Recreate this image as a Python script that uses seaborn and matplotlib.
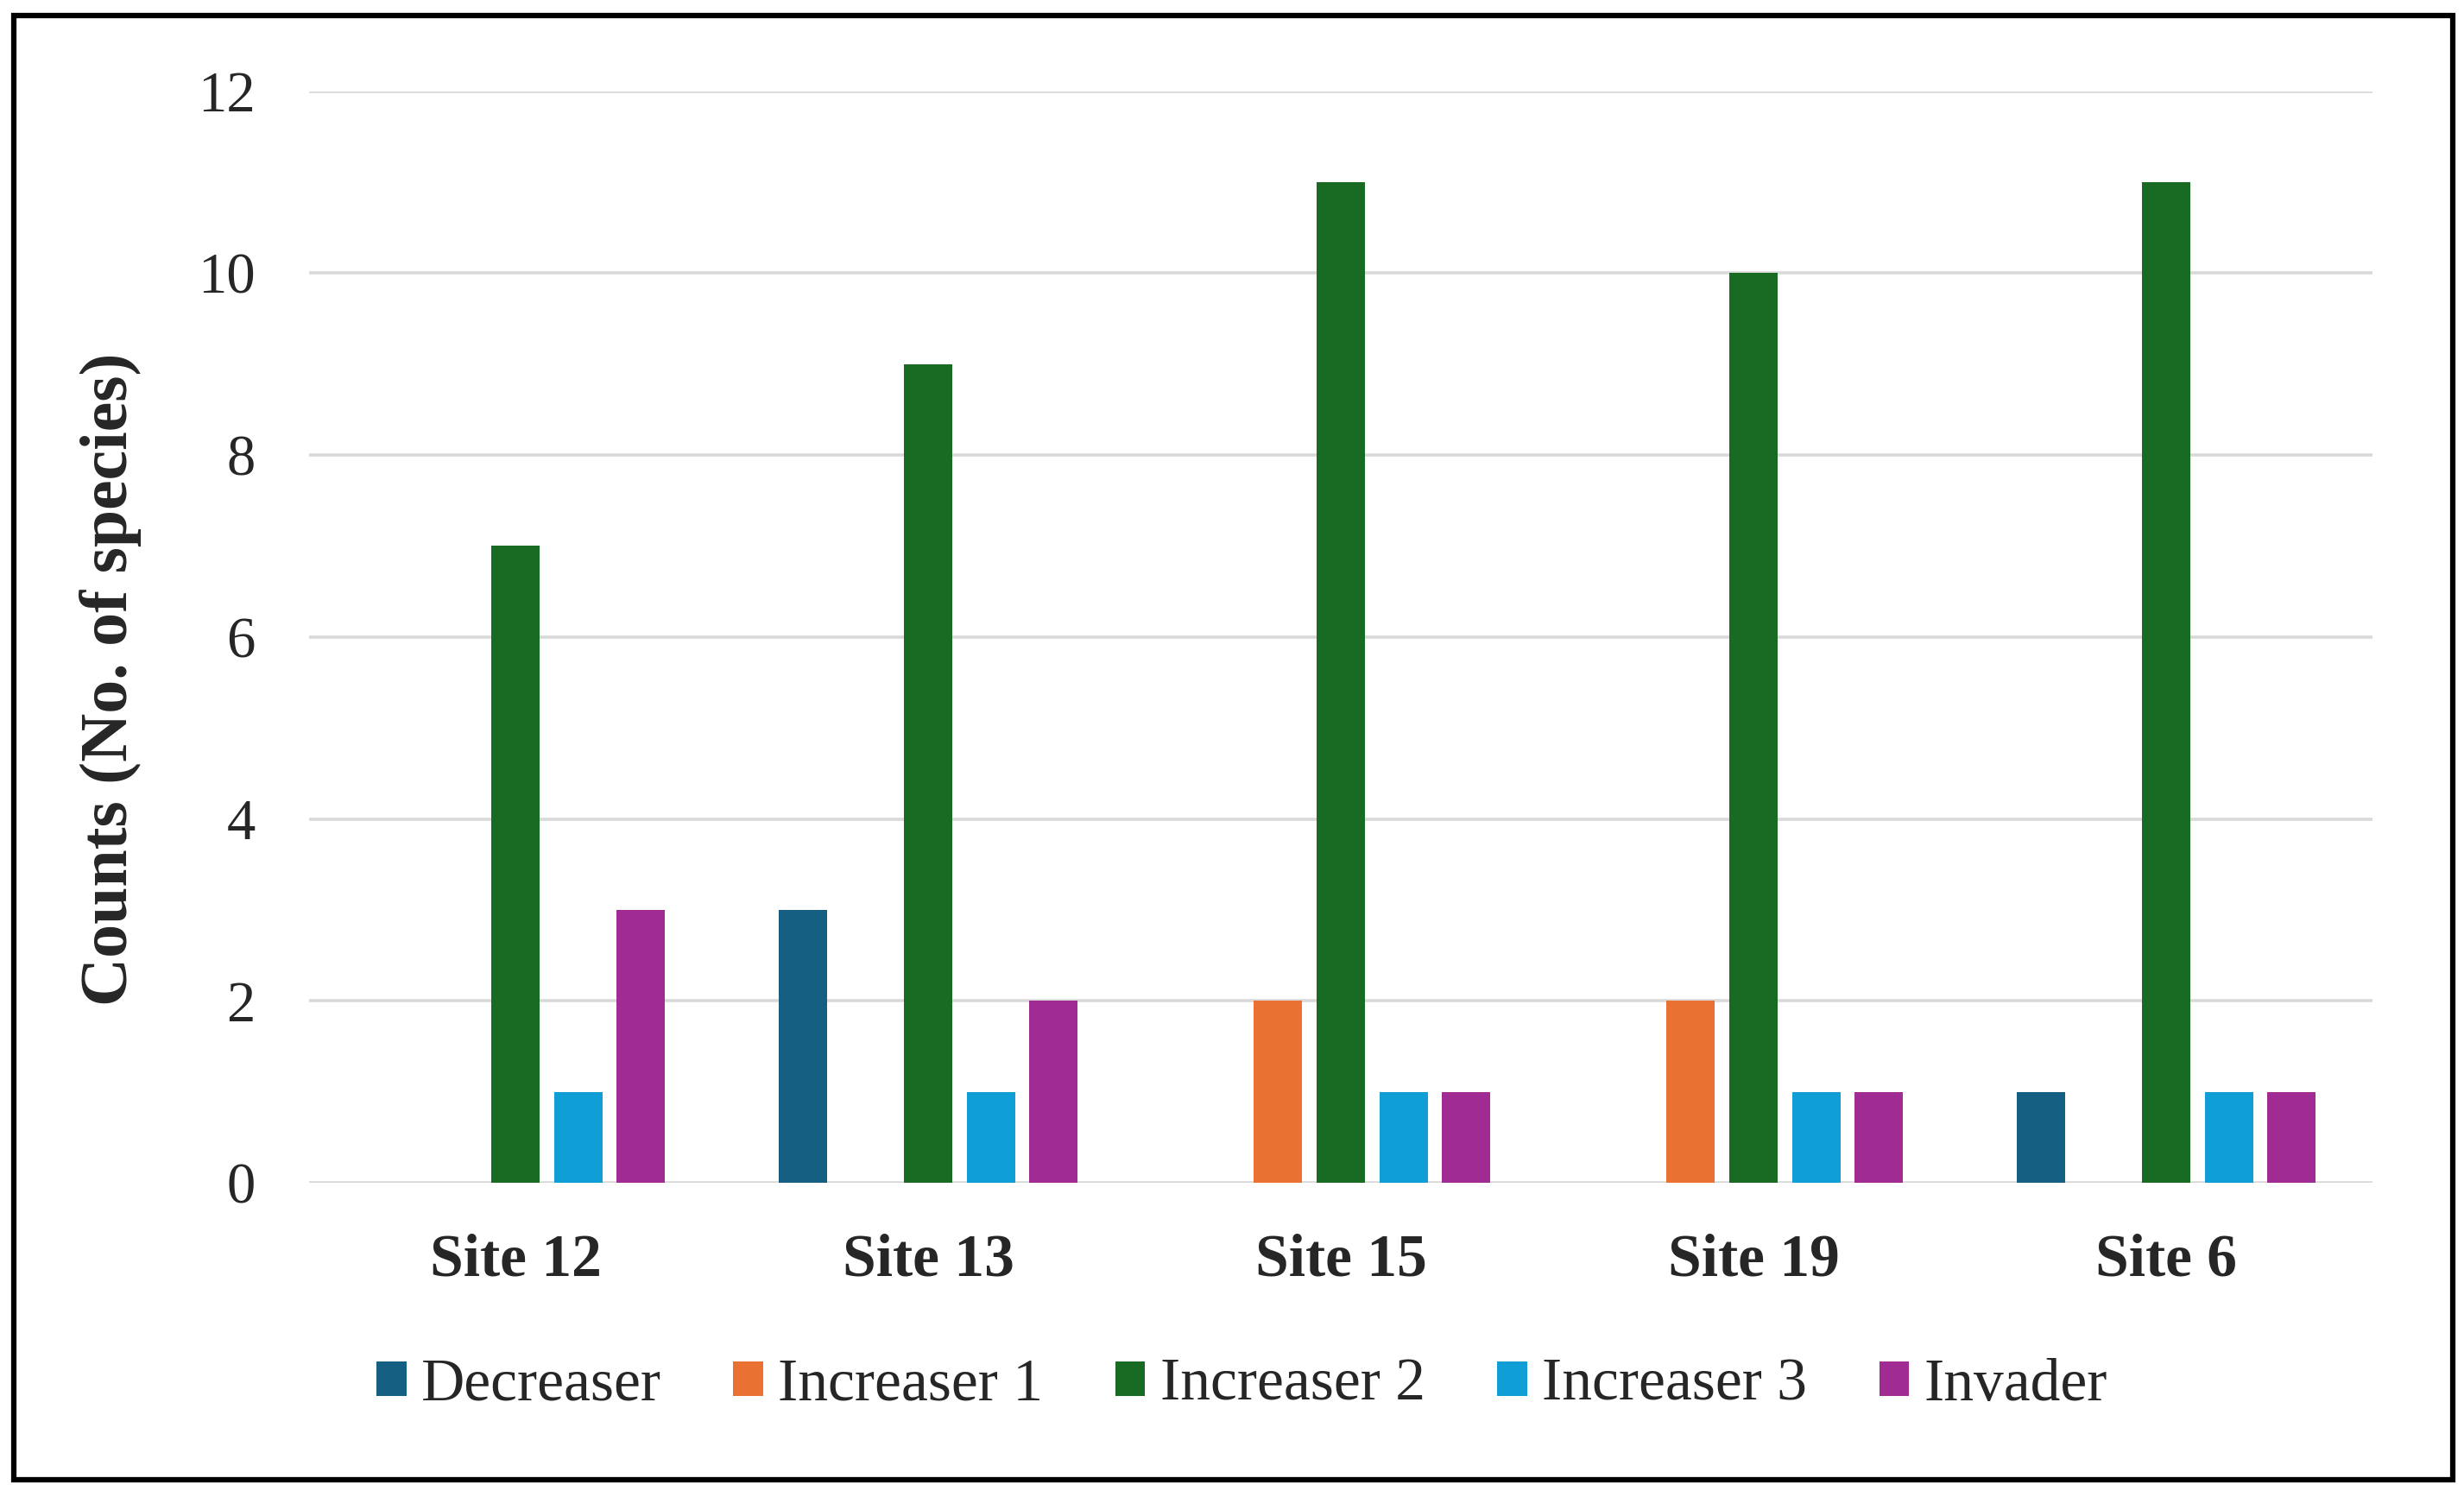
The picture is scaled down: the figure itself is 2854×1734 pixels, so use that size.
import matplotlib
matplotlib.use("Agg")
import matplotlib.pyplot as plt
from matplotlib.patches import Rectangle, Patch
import seaborn as sns
import pandas as pd

sites = ["Site 12", "Site 13", "Site 15", "Site 19", "Site 6"]
types = ["Decreaser", "Increaser 1", "Increaser 2", "Increaser 3", "Invader"]
decreaser = [0, 3, 0, 0, 1]
increaser1 = [0, 0, 2, 2, 0]
increaser2 = [7, 9, 11, 10, 11]
increaser3 = [1, 1, 1, 1, 1]
invader = [3, 2, 1, 1, 1]
colors = ["#156082", "#E97132", "#196B24", "#0F9ED5", "#A02B93"]
yticks = [0, 2, 4, 6, 8, 10, 12]

series = [decreaser, increaser1, increaser2, increaser3, invader]
rows = []
for t, vals in zip(types, series):
    for s, v in zip(sites, vals):
        rows.append({"Site": s, "Type": t, "Count": v})
df = pd.DataFrame(rows)

sns.set_theme(style="white")
plt.rcParams["font.family"] = ["Liberation Serif", "DejaVu Serif"]

W, H = 2854, 1734
fig = plt.figure(figsize=(W / 100, H / 100), dpi=100)
ax = fig.add_axes([358 / W, 1 - 1370 / H, (2748 - 358) / W, (1370 - 105.6) / H])

sns.barplot(data=df, x="Site", y="Count", hue="Type", order=sites, hue_order=types,
            palette=colors, saturation=1, width=0.76, gap=0.225, linewidth=0, ax=ax,
            errorbar=None, zorder=3)

ax.set_ylim(0, 12)
ax.set_xlim(-0.5, 4.5)
ax.set_yticks(yticks)
ax.set_yticklabels([str(v) for v in yticks], fontsize=48)
ax.tick_params(axis="y", length=0, pad=45)
ax.tick_params(axis="x", length=0, pad=42)
for lab in ax.get_xticklabels():
    lab.set_fontsize(50)
    lab.set_fontweight("bold")
ax.grid(axis="y", color="#d9d9d9", linewidth=2.6, zorder=0)
ax.set_axisbelow(True)
for sp in ax.spines.values():
    sp.set_visible(False)
ax.set_xlabel("")
ax.set_ylabel("Counts (No. of species)", fontsize=56, fontweight="bold")
ax.yaxis.set_label_coords(-0.081, 0.461)

leg = ax.get_legend()
if leg is not None:
    leg.remove()
handles = [Patch(facecolor=c, edgecolor="none") for c in colors]
fig.legend(handles, types, loc="center", bbox_to_anchor=(0.504, 1 - 1605 / H), ncol=5,
           frameon=False, fontsize=50, handlelength=0.5, handleheight=0.5,
           handletextpad=0.25, columnspacing=1.2)

fig.patches.append(Rectangle((16 / W, 1 - 1714 / H), (2841 - 16) / W, (1714 - 18) / H,
                             transform=fig.transFigure, fill=False, edgecolor="black",
                             linewidth=4.5, zorder=10))

fig.savefig("out.png", dpi=100, facecolor="white")
